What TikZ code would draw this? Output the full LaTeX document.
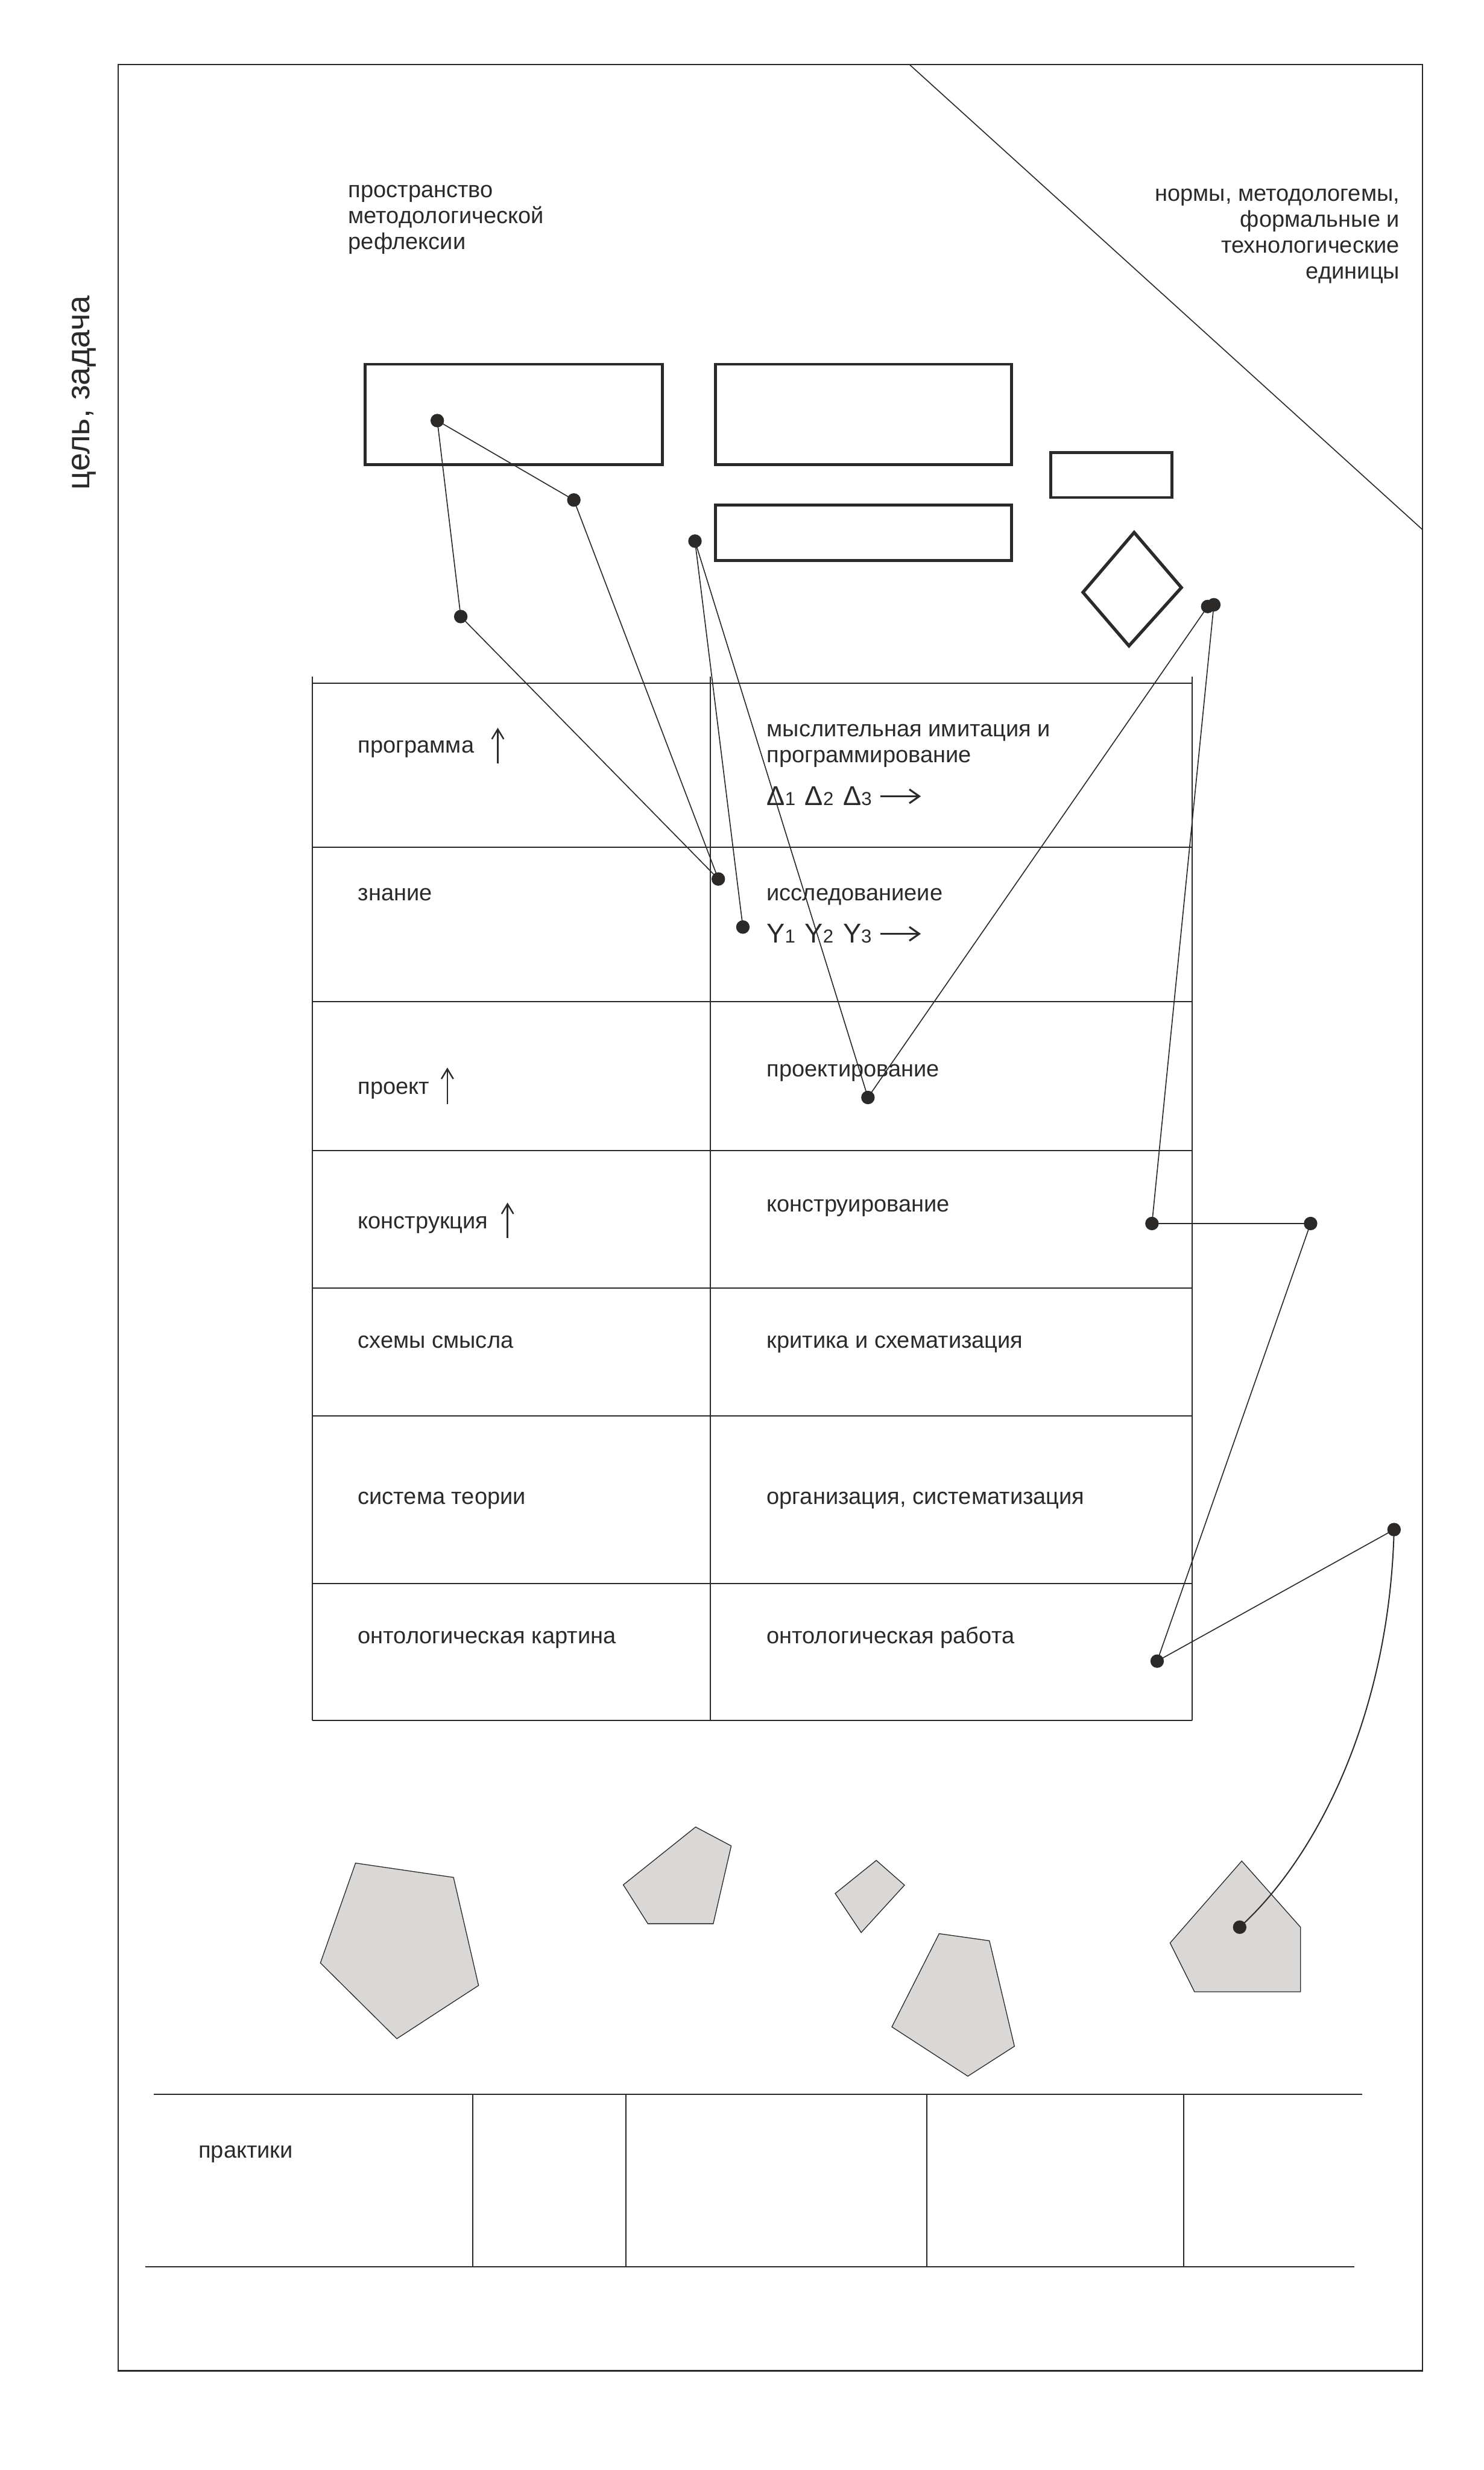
\documentclass[tikz,border=0pt]{standalone}
\usepackage{fontspec}
\setmainfont{Liberation Sans}
\usetikzlibrary{arrows.meta}
\definecolor{ink}{HTML}{2B2A29}
\definecolor{stonegray}{HTML}{D9D8D6}
\begin{document}
\begin{tikzpicture}[x=0.028cm,y=-0.028cm,
  frameline/.style={draw=ink, line width=0.75pt},
  diagline/.style={draw=ink, line width=0.5pt},
  thickbox/.style={draw=ink, line width=1.5pt},
  gridline/.style={draw=ink, line width=0.6pt},
  link/.style={draw=ink, line width=0.5pt},
  dot/.style={circle, fill=ink, inner sep=0pt, minimum size=0.24cm},
  stone/.style={fill=stonegray, draw=ink, line width=0.4pt},
  lbl/.style={inner sep=0pt, text=ink, font=\fontsize{11.6}{13.2}\selectfont},
  uparrow/.style={draw=ink, line width=0.75pt, -{Straight Barb[length=5pt,width=6pt]}},
  rarrow/.style={draw=ink, line width=0.95pt, -{Straight Barb[length=5pt,width=7pt]}}
]
\useasboundingbox (0,0) rectangle (942,1568);

% frame and diagonal
\draw[frameline] (75,41) rectangle (903,1505);
\draw[diagline] (577.4,41) -- (902.8,336);

% headings
\node[rotate=90, anchor=base, inner sep=0pt, text=ink, font=\fontsize{16.5}{18}\selectfont] (goal) at (57,249.3) {цель, задача};
\node[lbl, anchor=base west] (refl) at (220.9,125.2) {\begin{tabular}[t]{@{}l@{}}пространство\\методологической\\рефлексии\end{tabular}};
\node[lbl, anchor=base east] (norms) at (888.8,127.5) {\begin{tabular}[t]{@{}r@{}}нормы, методологемы,\\формальные и\\технологические\\единицы\end{tabular}};

% thick boxes
\draw[thickbox] (231.8,231.2) rectangle (420.5,295.1);
\draw[thickbox] (454.1,231.2) rectangle (642.2,295.1);
\draw[thickbox] (454.1,320.6) rectangle (642.2,355.9);
\draw[thickbox] (667.2,287.2) rectangle (744.1,315.8);
\draw[thickbox, line width=1.6pt] (720,338) -- (750,373) -- (716.7,410) -- (687.5,376) -- cycle;

% table
\draw[gridline] (198.3,429.6) -- (198.3,1092);
\draw[gridline] (450.8,429.6) -- (450.8,1092);
\draw[gridline] (756.9,429.6) -- (756.9,1092);
\foreach \yy in {433.7,538,636,730.3,817.7,899,1005.3,1092}
  \draw[gridline] (198.3,\yy) -- (756.9,\yy);

% table texts
\node[lbl, anchor=base west] (t1) at (227,478.1) {программа};
\node[lbl, anchor=base west] (u1) at (486.5,467.5) {\begin{tabular}[t]{@{}l@{}}мыслительная имитация и\\программирование\end{tabular}};
\node[lbl, anchor=base west] (delta) at (486.5,511.3) {{\fontsize{13.8}{15}\selectfont Δ}{\fontsize{9.5}{10}\selectfont 1}\hspace{4.8pt}{\fontsize{13.8}{15}\selectfont Δ}{\fontsize{9.5}{10}\selectfont 2}\hspace{4.8pt}{\fontsize{13.8}{15}\selectfont Δ}{\fontsize{9.5}{10}\selectfont 3}};
\node[lbl, anchor=base west] (t2) at (227,571.8) {знание};
\node[lbl, anchor=base west] (u2) at (486.5,571.8) {исследованиеие};
\node[lbl, anchor=base west] (ups) at (486.5,598.6) {{\fontsize{13.8}{15}\selectfont Y}{\fontsize{9.5}{10}\selectfont 1}\hspace{4.8pt}{\fontsize{13.8}{15}\selectfont Y}{\fontsize{9.5}{10}\selectfont 2}\hspace{4.8pt}{\fontsize{13.8}{15}\selectfont Y}{\fontsize{9.5}{10}\selectfont 3}};
\node[lbl, anchor=base west] (t3) at (227,694.5) {проект};
\node[lbl, anchor=base west] (u3) at (486.5,683.6) {проектирование};
\node[lbl, anchor=base west] (t4) at (227,780.1) {конструкция};
\node[lbl, anchor=base west] (u4) at (486.5,769.2) {конструирование};
\node[lbl, anchor=base west] (t5) at (227,855.6) {схемы смысла};
\node[lbl, anchor=base west] (u5) at (486.5,855.6) {критика и схематизация};
\node[lbl, anchor=base west] (t6) at (227,955) {система теории};
\node[lbl, anchor=base west] (u6) at (486.5,955) {организация, систематизация};
\node[lbl, anchor=base west] (t7) at (227,1043.5) {онтологическая картина};
\node[lbl, anchor=base west] (u7) at (486.5,1043.5) {онтологическая работа};

% arrows in the table
\draw[uparrow] (316,484.5) -- (316,462);
\draw[uparrow] (284,701) -- (284,677.7);
\draw[uparrow] (322.2,786) -- (322.2,763.4);
\draw[rarrow] (559,505.5) -- (584.6,505.5);
\draw[rarrow] (559,592.8) -- (584.6,592.8);

% stones
\filldraw[stone] (225.7,1182.7) -- (287.9,1191.8) -- (303.8,1260.4) -- (251.9,1294.2) -- (203.4,1246.1) -- cycle;
\filldraw[stone] (441.6,1159.8) -- (464.2,1171.8) -- (452.8,1221.2) -- (411.3,1221.2) -- (395.7,1196.5) -- cycle;
\filldraw[stone] (556.3,1181) -- (574.2,1196.7) -- (546.7,1226.8) -- (530.2,1202) -- cycle;
\filldraw[stone] (596.2,1227.5) -- (628.1,1232) -- (644,1299) -- (614.4,1318) -- (566.2,1286.7) -- cycle;
\filldraw[stone] (788.3,1181.4) -- (825.6,1223.4) -- (825.6,1264.4) -- (758.3,1264.4) -- (742.8,1233.4) -- cycle;

% practice table
\draw[gridline, line width=0.65pt] (97.7,1329.5) -- (864.9,1329.5);
\draw[gridline, line width=0.85pt] (92.2,1439) -- (859.8,1439);
\foreach \xx in {300.1,397.3,588.2,751.6}
  \draw[gridline] (\xx,1329.5) -- (\xx,1439);
\node[lbl, anchor=base west] (prac) at (125.8,1370) {практики};

% dots
\node[dot] (d1) at (277.6,267) {};
\node[dot] (d2) at (364.3,317.4) {};
\node[dot] (d3) at (292.5,391.4) {};
\node[dot] (d4) at (441.2,343.5) {};
\node[dot] (d5) at (456,558) {};
\node[dot] (d6) at (471.6,588.5) {};
\node[dot] (d7) at (551,696.7) {};
\node[dot] (d8a) at (766.7,385) {};
\node[dot] (d8b) at (770.6,383.9) {};
\node[dot] (d9) at (731.3,776.7) {};
\node[dot] (d10) at (832,776.7) {};
\node[dot] (d11) at (734.6,1054.5) {};
\node[dot] (d12) at (885,971) {};
\node[dot] (d13) at (787,1223.4) {};

% connectors
\draw[link] (d1.center) -- (d2.center);
\draw[link] (d1.center) -- (d3.center);
\draw[link] (d3.center) -- (d5.center);
\draw[link] (d2.center) -- (d5.center);
\draw[link] (d4.center) -- (d6.center);
\draw[link] (d4.center) -- (d7.center);
\draw[link] (d8a.center) -- (d7.center);
\draw[link] (d8b.center) -- (d9.center);
\draw[link, line width=0.85pt] (d9.center) -- (d10.center);
\draw[link] (d10.center) -- (d11.center);
\draw[link] (d11.center) -- (d12.center);
\draw[link, line width=0.6pt] (d12.center) .. controls (882,1090) and (835,1180) .. (d13.center);
\end{tikzpicture}
\end{document}
